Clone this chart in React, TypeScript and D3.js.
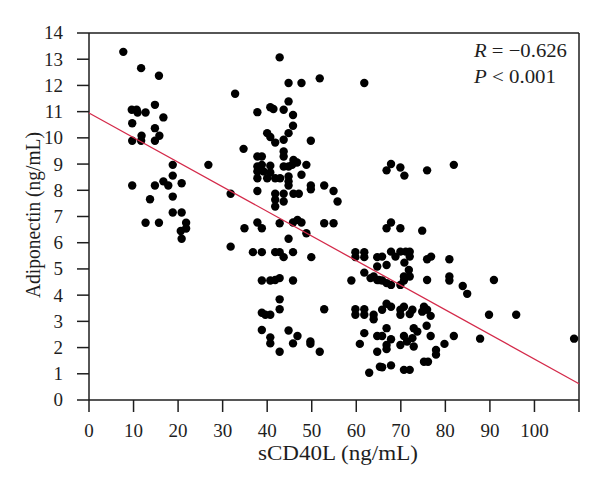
import React from "react";
import * as d3 from "d3";

const xTicks = [0, 10, 20, 30, 40, 50, 60, 70, 80, 90, 100, 110];
const yTicks = [0, 1, 2, 3, 4, 5, 6, 7, 8, 9, 10, 11, 12, 13, 14];

const groupLow: [number, number][] = [
  [7.7, 13.28], [11.7, 12.66], [15.7, 12.37], [32.8, 11.68], [14.8, 11.26], [9.6, 11.07], [10.7, 11.07],
  [10.9, 10.97], [12.7, 10.97], [16.7, 10.78], [9.7, 10.56], [14.8, 10.37], [11.8, 10.08], [15.8, 10.08],
  [9.7, 9.89], [11.7, 9.89], [14.8, 9.89], [18.8, 8.97], [26.8, 8.97], [18.8, 8.56], [16.7, 8.34],
  [17.8, 8.18], [20.8, 8.27], [9.7, 8.18], [14.8, 8.18], [13.7, 7.66], [18.8, 7.76], [31.8, 7.87],
  [18.8, 7.15], [20.8, 7.15], [12.7, 6.76], [15.7, 6.76], [21.8, 6.76], [21.8, 6.54], [20.6, 6.45],
  [20.8, 6.15], [31.8, 5.85],
];

const groupMid: [number, number][] = [
  [42.8, 13.07], [44.8, 12.09], [47.7, 12.09], [51.8, 12.27], [61.8, 12.09], [44.8, 11.39], [37.8, 10.98],
  [40.7, 11.17], [41.4, 11.1], [43.7, 11.07], [45.8, 10.87], [45.8, 10.46], [40, 10.18], [40.7, 10.03],
  [41.8, 9.82], [43.7, 9.93], [44.8, 10.18], [49.8, 9.89], [34.7, 9.58], [43.7, 9.48], [43.7, 9.29],
  [37.8, 9.29], [38.8, 9.29], [45.9, 9.16], [46.7, 9.06], [45.6, 8.97], [48.8, 8.97], [37.8, 8.91],
  [38.8, 8.97], [40.7, 8.94], [43.7, 8.91], [44.8, 8.91], [37.8, 8.72], [39.2, 8.72], [40.7, 8.68],
  [47.7, 8.59], [37.8, 8.46], [40, 8.46], [41.8, 8.46], [42.9, 8.46], [44.8, 8.53], [44.8, 8.34],
  [44.8, 8.18], [49.8, 8.18], [49.8, 8.04], [52.8, 8.18], [54.9, 7.97], [55.8, 7.57], [37.8, 7.97],
  [41.8, 7.87], [43.7, 7.87], [45.9, 7.87], [47.1, 7.87], [41.8, 7.64], [43.7, 7.57], [41.8, 7.38],
  [34.9, 6.55], [37.8, 6.77], [38.8, 6.55], [42.8, 6.74], [45.8, 6.77], [46.8, 6.87], [47.7, 6.77],
  [52.8, 6.74], [54.9, 6.74], [48.8, 6.36], [44.8, 6.15], [36.8, 5.64], [38.8, 5.64], [41.8, 5.64],
  [42.8, 5.64], [43.7, 5.45], [45.8, 5.64], [49.9, 5.45], [38.8, 4.56], [40.7, 4.56], [41.8, 4.58],
  [42.8, 4.65], [45.8, 4.56], [42.8, 3.84], [42.8, 3.46], [38.8, 3.33], [39.6, 3.25], [40.7, 3.25],
  [52.8, 3.46], [38.8, 2.67], [44.8, 2.65], [40.7, 2.39], [40.7, 2.16], [46.8, 2.44], [45.8, 2.16],
  [49.7, 2.23], [49.7, 2.14], [42.8, 1.84], [51.8, 1.84],
];

const groupHigh: [number, number][] = [
  [59.8, 5.64], [59.8, 5.45], [61.8, 5.64], [61.8, 5.45], [64.7, 5.45], [64.7, 5.09], [61.8, 4.86],
  [63.9, 4.71], [64.7, 4.58], [58.9, 4.56], [59.8, 3.46], [59.8, 3.25], [61.8, 3.46], [61.8, 3.25],
  [63.9, 3.25], [63.9, 3.08], [61.8, 2.55], [60.8, 2.14], [64.7, 2.44], [64.7, 1.84], [62.9, 1.04],
  [65.3, 1.27], [67.8, 9.0], [66.8, 8.76], [69.9, 8.87], [70.8, 8.56], [75.9, 8.76], [81.9, 8.97],
  [67.8, 6.77], [66.8, 6.55], [69.9, 6.55], [74.8, 6.46], [65.8, 5.47], [67.8, 5.66], [68.8, 5.47],
  [69.9, 5.66], [71.1, 5.66], [72, 5.66], [72, 5.47], [75.9, 5.37], [76.8, 5.47], [80.9, 5.37],
  [66.8, 5.15], [70.8, 5.24], [71.8, 4.96], [65.1, 4.58], [70.7, 4.71], [72, 4.71], [75.9, 4.58],
  [80.9, 4.71], [90.9, 4.58], [63.2, 4.65], [65.8, 4.56], [66.8, 4.46], [67.8, 4.39], [69.9, 4.39],
  [70.7, 4.56], [80.9, 4.56], [83.9, 4.35], [84.9, 4.05], [89.8, 3.25], [95.9, 3.25], [87.8, 2.34],
  [81.9, 2.44], [79.8, 2.14], [66.8, 3.67], [67.8, 3.56], [65.8, 3.44], [70.7, 3.56], [69.9, 3.44],
  [69.9, 3.25], [72.6, 3.44], [72, 3.28], [75.2, 3.56], [74.8, 3.37], [75.9, 3.44], [76.7, 3.21],
  [75.8, 2.83], [66.8, 2.74], [65.8, 2.44], [67.8, 2.32], [66.8, 2.1], [66.8, 1.94], [70.7, 2.44],
  [69.9, 2.1], [71.4, 2.23], [72.9, 2.74], [73.7, 2.61], [72.6, 2.36], [72.9, 2.04], [76.7, 2.44],
  [77.9, 1.91], [77.9, 1.73], [75.2, 1.46], [76.1, 1.46], [65.8, 1.25], [67.8, 1.32], [70.7, 1.15],
  [72, 1.15], [108.9, 2.34],
];

const fitIntercept = 10.95;
const fitSlope = -0.0939;
const statR = "−0.626";
const statP = "0.001";

const W = 600;
const H = 490;
const left = 89;
const right = 579;
const top = 33;
const bottom = 400;
const tickLen = 12;
const font = "'Liberation Serif', 'DejaVu Serif', serif";
const ink = "#1e1e1e";

export default function App() {
  const x = d3.scaleLinear().domain([0, 110]).range([left, right]);
  const y = d3.scaleLinear().domain([0, 14]).range([bottom, top]);
  const points = [...groupLow, ...groupMid, ...groupHigh];
  const fitLine = d3
    .line<number>()
    .x((d) => x(d))
    .y((d) => y(fitIntercept + fitSlope * d));

  return (
    <svg
      width={W}
      height={H}
      style={{ position: "absolute", left: 0, top: 0, background: "#fff" }}
      fontFamily={font}
    >
      <rect x={0} y={0} width={W} height={H} fill="#fff" />
      {/* frame */}
      <line x1={left} x2={right} y1={top} y2={top} stroke={ink} strokeWidth={1.5} />
      <line x1={right} x2={right} y1={top} y2={bottom} stroke={ink} strokeWidth={1.5} />
      <line x1={left} x2={right} y1={bottom} y2={bottom} stroke={ink} strokeWidth={1.5} />
      <line x1={left} x2={left} y1={top} y2={bottom} stroke={ink} strokeWidth={1.5} />
      {/* x ticks */}
      {xTicks.map((t) => (
        <g key={"x" + t}>
          <line x1={x(t)} x2={x(t)} y1={bottom} y2={bottom + tickLen} stroke={ink} strokeWidth={1.5} />
          {t <= 100 && (
            <text x={x(t)} y={437} textAnchor="middle" fontSize={19} fill={ink}>
              {t}
            </text>
          )}
        </g>
      ))}
      {/* y ticks */}
      {yTicks.map((t) => (
        <g key={"y" + t}>
          <line x1={left - tickLen} x2={left} y1={y(t)} y2={y(t)} stroke={ink} strokeWidth={1.5} />
          <text x={63} y={y(t)} dy="0.34em" textAnchor="end" fontSize={19} fill={ink}>
            {t}
          </text>
        </g>
      ))}
      {/* points */}
      {points.map((p, i) => (
        <circle key={i} cx={x(p[0])} cy={y(p[1])} r={4.2} fill="#000" />
      ))}
      {/* regression */}
      <path d={fitLine([0, 110]) || ""} fill="none" stroke="#d42a4a" strokeWidth={1.3} />
      {/* stats */}
      <text x={474} y={57} fontSize={19} fill={ink} textLength={93} lengthAdjust="spacingAndGlyphs">
        <tspan fontStyle="italic">R</tspan>
        <tspan> = {statR}</tspan>
      </text>
      <text x={474} y={83} fontSize={19} fill={ink} textLength={82} lengthAdjust="spacingAndGlyphs">
        <tspan fontStyle="italic">P</tspan>
        <tspan> {"<"} {statP}</tspan>
      </text>
      {/* axis titles */}
      <text
        x={338}
        y={460}
        textAnchor="middle"
        fontSize={20}
        fill={ink}
        textLength={160}
        lengthAdjust="spacingAndGlyphs"
      >
        sCD40L (ng/mL)
      </text>
      <text
        transform={`translate(40, 215) rotate(-90)`}
        textAnchor="middle"
        fontSize={20}
        fill={ink}
        textLength={166}
        lengthAdjust="spacingAndGlyphs"
      >
        Adiponectin (ng/mL)
      </text>
    </svg>
  );
}
